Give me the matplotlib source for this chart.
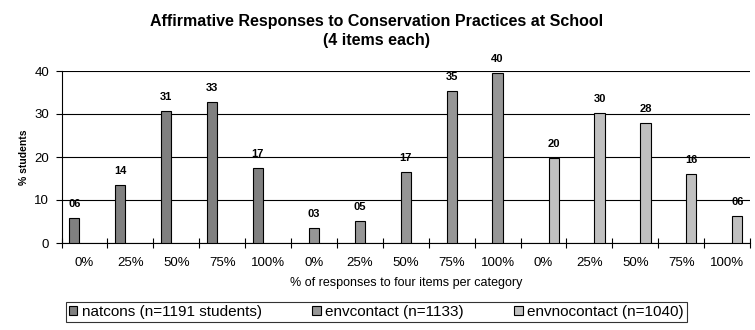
import numpy as np
import matplotlib
matplotlib.use('Agg')
import matplotlib.pyplot as plt

plt.rcParams['font.family'] = ['Liberation Sans', 'DejaVu Sans']

# data (% students)
levels = ['0%', '25%', '50%', '75%', '100%']
natcons = [5.8, 13.5, 30.6, 32.8, 17.4]
envcontact = [3.4, 5.1, 16.6, 35.3, 39.6]
envnocontact = [19.8, 30.2, 27.9, 16.0, 6.2]
series_names = ['natcons (n=1191 students)', 'envcontact (n=1133)', 'envnocontact (n=1040)']
series_colors = ['#808080', '#969696', '#c0c0c0']

tick_labels = levels * 3
series = [natcons, envcontact, envnocontact]

# figure
fig = plt.figure(figsize=(7.55, 3.3), dpi=100)
ax = fig.add_axes([61.5 / 755, 87 / 330, 688.5 / 755, 172 / 330])

w = 0.222
for s, (vals, name, col) in enumerate(zip(series, series_names, series_colors)):
    x = np.arange(5) + 5 * s + (s - 1) * w
    bars = ax.bar(x, vals, width=w, color=col, edgecolor='black', linewidth=0.8,
                  label=name, zorder=3)
    for b, v in zip(bars, vals):
        ax.annotate(f'{v:02.0f}', (b.get_x() + b.get_width() / 2, v),
                    xytext=(0, 6.5), textcoords='offset points',
                    ha='center', va='bottom', fontsize=8, fontweight='bold')

# axes styling
ax.set_xlim(-0.5, 14.5)
ax.set_ylim(0, 40)
ax.set_yticks([0, 10, 20, 30, 40])
ax.set_xticks(np.arange(15))
ax.set_xticklabels(tick_labels, fontsize=9.5)
ax.set_xticks(np.arange(16) - 0.5, minor=True)
ax.tick_params(axis='x', which='major', length=0, pad=10)
ax.tick_params(axis='x', which='minor', direction='inout', length=7, width=0.8)
ax.tick_params(axis='y', labelsize=9.5, length=4, width=0.8, pad=5)
ax.grid(axis='y', color='black', linewidth=0.8, zorder=0)
for sp in ['top', 'right']:
    ax.spines[sp].set_visible(False)
ax.spines['left'].set_linewidth(0.8)
ax.spines['bottom'].set_linewidth(0.8)

ax.set_xlabel('% of responses to four items per category', fontsize=9, labelpad=6)
ax.set_ylabel('% students', fontsize=7.5, fontweight='bold', labelpad=4)

fig.text(0.499, 0.905, 'Affirmative Responses to Conservation Practices at School\n(4 items each)',
         ha='center', va='center', fontsize=11.5, fontweight='bold', linespacing=1.35)

leg = fig.legend(loc='lower left', bbox_to_anchor=(66 / 755, 8 / 330),
                 ncol=3, fontsize=11, frameon=True, fancybox=False,
                 handlelength=0.55, handleheight=0.55, handletextpad=0.3,
                 columnspacing=3.3, borderaxespad=0, borderpad=0.2)
leg.get_frame().set_edgecolor('black')
leg.get_frame().set_linewidth(0.8)

fig.savefig('out.png', dpi=100)
